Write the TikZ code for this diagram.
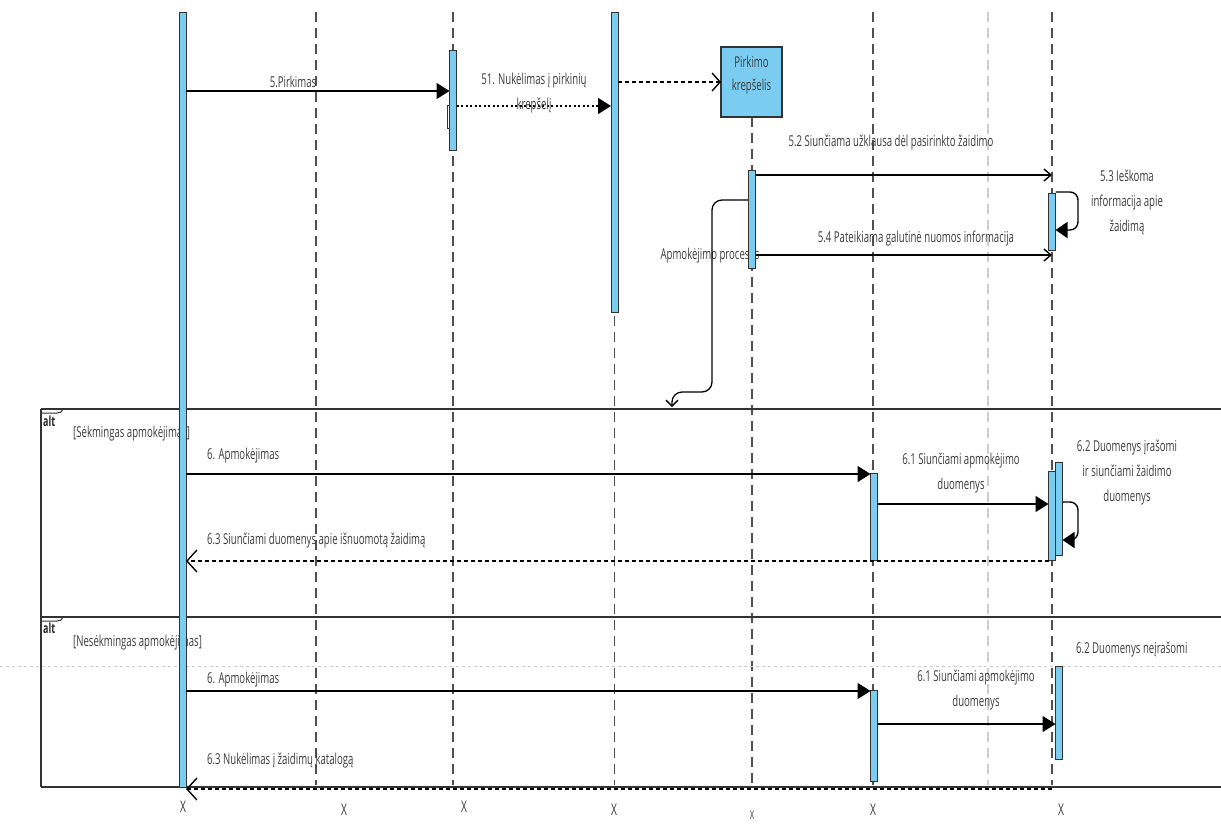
\documentclass[tikz,border=0pt]{standalone}
\usepackage{fontspec}
\setmainfont{Open Sans}[FakeStretch=0.64]
\usetikzlibrary{arrows.meta}
\definecolor{barblue}{RGB}{122,204,240}
\definecolor{linegray}{RGB}{80,80,80}
\definecolor{faintgray}{RGB}{205,205,205}
\definecolor{txtgray}{RGB}{60,60,60}
\begin{document}
\begin{tikzpicture}[x=1pt,y=-1pt,
  lifeline/.style={draw=linegray,line width=1.3pt,dash pattern=on 10pt off 6pt},
  faintline/.style={draw=faintgray,line width=1.2pt,dash pattern=on 10pt off 6pt},
  bar/.style={draw=black!80,fill=barblue,line width=1pt,minimum width=7pt,inner sep=0pt,outer sep=0pt},
  sync/.style={line width=1.6pt,-{Triangle[length=13pt,width=16pt]}},
  async/.style={line width=1.4pt,-{Straight Barb[length=7pt,width=12pt]}},
  dotmsg/.style={line width=1.6pt,dash pattern=on 2pt off 2.5pt,-{Triangle[length=13pt,width=16pt]}},
  createmsg/.style={line width=1.4pt,dash pattern=on 4pt off 3pt,-{Straight Barb[length=8pt,width=18pt]}},
  ret/.style={line width=1.4pt,dash pattern=on 4pt off 3pt,-{Straight Barb[length=10pt,width=22pt]}},
  lbl/.style={text=txtgray,font=\fontsize{15}{25}\selectfont,align=center,inner sep=0pt},
  lblleft/.style={lbl,anchor=west,align=left},
  xmark/.style={text=txtgray,font=\fontsize{16}{18}\selectfont,inner sep=0pt},
  altlbl/.style={text=black!85,font=\fontsize{14}{16}\selectfont\bfseries,inner sep=0pt,anchor=west},
  frameline/.style={draw=black!80,line width=1.8pt},
]
\useasboundingbox (0,0) rectangle (1221,823);
\clip (0,0) rectangle (1221,823);

% lifeline anchors
\coordinate (l1) at (182.5,12);
\coordinate (l2) at (316,12);
\coordinate (l3) at (453,12);
\coordinate (l4) at (614.5,12);
\coordinate (l5) at (752,117);
\coordinate (l6) at (873,12);
\coordinate (lf) at (988,12);
\coordinate (l7) at (1052,12);
\coordinate (bottom) at (0,785);

% dashed lifelines
\draw[lifeline] (l2) -- (l2 |- bottom);
\draw[lifeline] (l3) -- (l3 |- bottom);
\draw[lifeline] (l4) -- (l4 |- bottom);
\draw[lifeline] (l5) -- (l5 |- bottom);
\draw[lifeline] (l6) -- (l6 |- bottom);
\draw[faintline] (lf) -- (lf |- bottom);
\draw[lifeline] (l7) -- (l7 |- bottom);

% faint horizontal guide
\coordinate (gA) at (0,666);
\coordinate (gB) at (1221,666);
\draw[draw=faintgray,line width=1pt,dash pattern=on 3pt off 3pt] (gA) -- (gB);

% alt frames
\coordinate (fTL) at (41,409);
\coordinate (fML) at (41,617);
\coordinate (fBL) at (41,787);
\draw[frameline] (fTL) -- (1221,409);
\draw[frameline] (fML) -- (1221,617);
\draw[frameline] (fBL) -- (1221,787);
\draw[draw=black!80,line width=1.2pt] (fTL) -- (fBL);
\draw[draw=black!80,line width=1pt] (41,413) -- (57,413) to[out=0,in=-90] (63,409);
\draw[draw=black!80,line width=1pt] (41,621) -- (57,621) to[out=0,in=-90] (63,617);
\node[altlbl] (alt1) at (43,421) {alt};
\node[altlbl] (alt2) at (43,628) {alt};
\node[lblleft] (g1) at (73,434) {[Sėkmingas apmokėjimas]};
\node[lblleft] (g2) at (73,643) {[Nesėkmingas apmokėjimas]};

% process note
\node[lbl] (proc) at (710,256) {Apmokėjimo procesas};

% object box
\node[bar,line width=1.6pt,minimum width=61pt,minimum height=70pt,align=center,text=txtgray,font=\fontsize{15}{23}\selectfont] (box) at (751.5,82) {};
\node[lbl,align=center] (boxtxt) at (751.5,75) {Pirkimo\\[-2pt]krepšelis};

% activation bars
\node[bar,minimum height=775pt] (a1) at (182.5,399.5) {};
\node[bar,minimum height=300pt] (a4) at (614.5,162) {};
\node[bar,minimum height=100pt] (a3) at (453,100) {};
\node[draw=black!80,line width=0.8pt,minimum width=2.5pt,minimum height=23pt,inner sep=0pt] (a3n) at (448.2,116.5) {};
\node[bar,minimum height=98pt] (a5) at (752,219) {};
\node[bar,minimum height=57pt] (a7) at (1052,221.5) {};
\node[bar,minimum height=87pt] (b6) at (874,516.5) {};
\node[bar,minimum height=93pt] (b7b) at (1059,508.5) {};
\node[bar,minimum height=89pt] (b7f) at (1052,515.5) {};
\node[bar,minimum height=91pt] (c6) at (874,735.5) {};
\node[bar,minimum height=93pt] (c7) at (1059,712.5) {};

% top messages
\draw[sync] (a1.east |- 0,91) -- (a3.west |- 0,91);
\node[lbl] (m5) at (293,82) {5.Pirkimas};
\draw[dotmsg] (a3.east |- 0,106) -- (a4.west |- 0,106);
\node[lbl] (m51) at (534,93) {51. Nukėlimas į pirkinių\\krepšelį};
\draw[createmsg] (a4.east |- 0,82) -- (box.west |- 0,82);

\draw[async] (a5.east |- 0,175) -- (l7 |- 0,175);
\node[lbl] (m52) at (891,143) {5.2 Siunčiama užklausa dėl pasirinkto žaidimo};
\draw[line width=1.4pt,rounded corners=8pt,-{Triangle[length=12pt,width=16pt]}] (a7.east |- 0,192) -- (1078,192) -- (1078,230) -- (a7.east |- 0,230);
\node[lbl] (m53) at (1127,202) {5.3 Ieškoma\\informacija apie\\žaidimą};
\draw[async] (a5.east |- 0,255) -- (l7 |- 0,255);
\node[lbl] (m54) at (916,239) {5.4 Pateikiama galutinė nuomos informacija};

\draw[line width=1.3pt,rounded corners=10pt,-{Straight Barb[length=6pt,width=12pt]}] (a5.west |- 0,200) -- (712,200) -- (712,392) -- (672,392) -- (672,407);
\node[bar,minimum height=98pt] at (a5) {};

% successful payment
\draw[sync] (a1.east |- 0,474) -- (b6.west |- 0,474);
\node[lblleft] (s6) at (207,456) {6. Apmokėjimas};
\draw[sync] (b6.east |- 0,504) -- (b7f.west |- 0,504);
\node[lbl] (s61) at (961,473) {6.1 Siunčiami apmokėjimo\\duomenys};
\draw[line width=1.4pt,rounded corners=8pt,-{Triangle[length=12pt,width=16pt]}] (b7b.east |- 0,502) -- (1078,502) -- (1078,540) -- (b7b.east |- 0,540);
\node[lbl] (s62) at (1127,473) {6.2 Duomenys įrašomi\\ir siunčiami žaidimo\\duomenys};
\draw[ret] (b7f.west |- 0,561) -- (a1.east |- 0,561);
\node[lblleft] (s63) at (207,541) {6.3 Siunčiami duomenys apie išnuomotą žaidimą};

% unsuccessful payment
\draw[sync] (a1.east |- 0,691) -- (c6.west |- 0,691);
\node[lblleft] (u6) at (207,680) {6. Apmokėjimas};
\draw[sync] (c6.east |- 0,724) -- (c7.west |- 0,724);
\node[lbl] (u61) at (976,690) {6.1 Siunčiami apmokėjimo\\duomenys};
\node[lblleft] (u62) at (1076,650) {6.2 Duomenys neįrašomi};
\draw[ret] (l7 |- 0,789) -- (a1.east |- 0,789);
\node[lblleft] (u63) at (207,761) {6.3 Nukėlimas į žaidimų katalogą};

% destruction marks
\node[xmark] (x1) at (183,807) {X};
\node[xmark] (x2) at (344,810) {X};
\node[xmark] (x3) at (464,807) {X};
\node[xmark] (x4) at (614,810) {X};
\node[xmark,font=\fontsize{12}{14}\selectfont] (x5) at (752,815) {X};
\node[xmark] (x6) at (873,810) {X};
\node[xmark] (x7) at (1061,810) {X};
\end{tikzpicture}
\end{document}
